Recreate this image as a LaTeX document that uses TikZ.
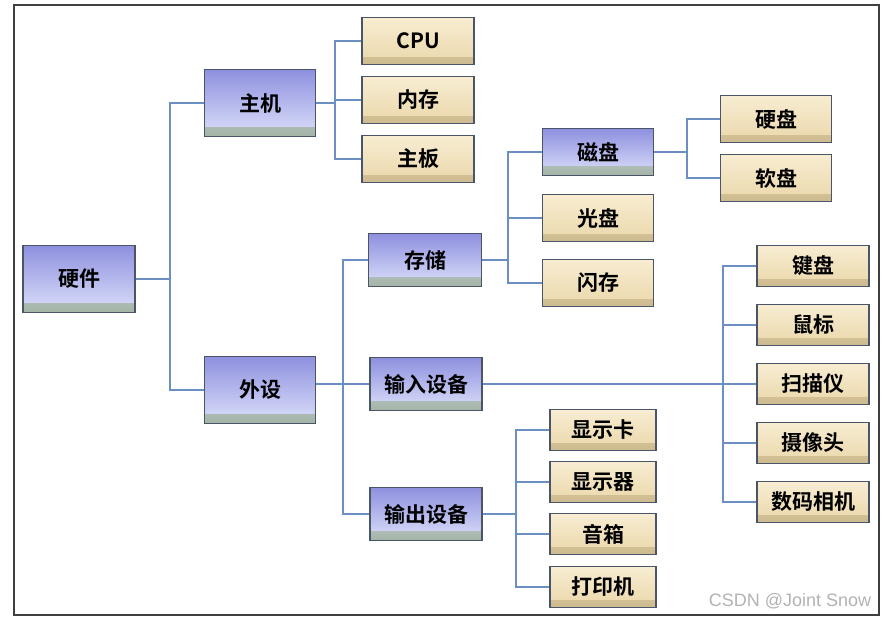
\documentclass[tikz,border=0pt]{standalone}
\usepackage{fontspec}
\newfontfamily\cjk{Noto Sans CJK SC}[BoldFont={Noto Sans CJK SC Bold}]
\newfontfamily\wmfont{Liberation Sans}
\usetikzlibrary{calc}
\definecolor{boxline}{HTML}{4A5668}
\definecolor{linkblue}{HTML}{6B8FC2}
\definecolor{blueTop}{HTML}{8E90DF}
\definecolor{blueBot}{HTML}{DCE0F9}
\definecolor{blueStrip}{HTML}{A3B4A6}
\definecolor{tanTop}{HTML}{F8EDD2}
\definecolor{tanBot}{HTML}{EAD7AA}
\definecolor{tanStrip}{HTML}{CDBB8F}

\begin{document}
\begin{tikzpicture}[x=1pt,y=-1pt,
    box/.style={draw=boxline,line width=1.9pt,font=\cjk\bfseries\fontsize{21}{22}\selectfont,
      inner sep=0pt,anchor=center},
    bluebox/.style={box,top color=blueTop,bottom color=blueBot,
      path picture={\shade[top color=blueBot,bottom color=blueStrip] ([yshift=9pt]path picture bounding box.south west) rectangle
        (path picture bounding box.south east);}},
    tanbox/.style={box,top color=tanTop,bottom color=tanBot,
      path picture={\shade[top color=tanBot,bottom color=tanStrip] ([yshift=7pt]path picture bounding box.south west) rectangle
        (path picture bounding box.south east);}},
    link/.style={draw=linkblue,line width=1.8pt}]
  \useasboundingbox (0,0) rectangle (886,618);
  \draw[line width=1.8pt,black!75] (14,5) rectangle (879,615);

  % buses
  \coordinate (b0) at (170,0);
  \coordinate (b1) at (335,0);
  \coordinate (b2) at (343,0);
  \coordinate (b3) at (508,0);
  \coordinate (b4) at (687,0);
  \coordinate (b5) at (723,0);
  \coordinate (b6) at (516,0);

  \node[bluebox,minimum width=112pt,minimum height=67pt] (hw) at (79,279) {硬件};
  \node[bluebox,minimum width=111pt,minimum height=67pt] (host) at (260,103) {主机};
  \node[bluebox,minimum width=111pt,minimum height=67pt] (wai) at (260,390) {外设};

  \node[tanbox,minimum width=112pt,minimum height=47pt] (cpu) at (418,41) {CPU};
  \node[tanbox,minimum width=112pt,minimum height=47pt] (mem) at (418,100) {内存};
  \node[tanbox,minimum width=112pt,minimum height=47pt] (board) at (418,159) {主板};

  \node[bluebox,minimum width=113pt,minimum height=53pt] (store) at (425,260) {存储};
  \node[bluebox,minimum width=112pt,minimum height=53pt] (inp) at (426,384) {输入设备};
  \node[bluebox,minimum width=112pt,minimum height=53pt] (outp) at (426,514) {输出设备};

  \node[bluebox,minimum width=111pt,minimum height=47pt] (disk) at (598,152) {磁盘};
  \node[tanbox,minimum width=111pt,minimum height=47pt] (cd) at (598,218) {光盘};
  \node[tanbox,minimum width=111pt,minimum height=47pt] (flash) at (598,283) {闪存};

  \node[tanbox,minimum width=111pt,minimum height=47pt] (hdd) at (776,119) {硬盘};
  \node[tanbox,minimum width=111pt,minimum height=47pt] (fdd) at (776,178) {软盘};

  \node[tanbox,minimum width=112pt,minimum height=41pt] (kbd) at (813,266) {键盘};
  \node[tanbox,minimum width=112pt,minimum height=41pt] (mouse) at (813,325) {鼠标};
  \node[tanbox,minimum width=112pt,minimum height=41pt] (scan) at (813,384) {扫描仪};
  \node[tanbox,minimum width=112pt,minimum height=41pt] (cam) at (813,443) {摄像头};
  \node[tanbox,minimum width=112pt,minimum height=41pt] (dcam) at (813,502) {数码相机};

  \node[tanbox,minimum width=106pt,minimum height=41pt] (gpu) at (603,430) {显示卡};
  \node[tanbox,minimum width=106pt,minimum height=41pt] (mon) at (603,482) {显示器};
  \node[tanbox,minimum width=106pt,minimum height=41pt] (spk) at (603,534) {音箱};
  \node[tanbox,minimum width=106pt,minimum height=41pt] (prn) at (603,587) {打印机};

  \foreach \c in {host,wai} \draw[link] (hw.east) -- (hw.east -| b0) |- (\c.west);
  \foreach \c in {cpu,mem,board} \draw[link] (host.east) -- (host.east -| b1) |- (\c.west);
  \foreach \c in {store,inp,outp} \draw[link] (wai.east |- inp.west) -- (inp.west -| b2) |- (\c.west);
  \foreach \c in {disk,cd,flash} \draw[link] (store.east) -- (store.east -| b3) |- (\c.west);
  \foreach \c in {hdd,fdd} \draw[link] (disk.east) -- (disk.east -| b4) |- (\c.west);
  \foreach \c in {kbd,mouse,scan,cam,dcam} \draw[link] (inp.east) -- (inp.east -| b5) |- (\c.west);
  \foreach \c in {gpu,mon,spk,prn} \draw[link] (outp.east) -- (outp.east -| b6) |- (\c.west);

  \node[font=\wmfont\fontsize{18}{18}\selectfont,text=gray!60] (mark) at (790,601) {CSDN @Joint Snow};
\end{tikzpicture}
\end{document}
